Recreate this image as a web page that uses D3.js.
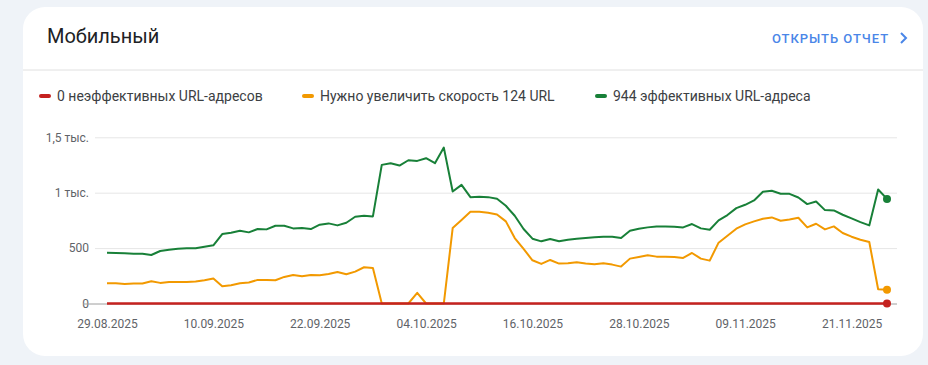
<!DOCTYPE html>
<html><head><meta charset="utf-8">
<script src="https://cdn.jsdelivr.net/npm/d3@7"></script>
<style>
html,body{margin:0;padding:0;background:#eff3f8;}
svg{display:block;font-family:Roboto,"Noto Sans",sans-serif;}
</style></head>
<body><svg id="c" width="928" height="365"></svg>
<script>
const startDate = "2025-08-29";
const poorValues = new Array(89).fill(0);
const needsWork = [183,183,177,180,180,201,186,195,195,195,198,210,225,156,165,183,189,213,213,210,
 240,258,246,258,255,267,285,264,288,327,321,0,0,0,0,96,0,0,0,681,
 753,828,828,819,804,741,591,492,390,357,393,360,363,372,360,354,363,351,333,405,
 420,435,423,423,420,411,456,405,387,549,612,675,714,741,765,777,747,759,774,687,
 720,669,696,636,603,576,555,129,124];
const goodValues = [459,456,453,450,450,438,474,486,495,498,498,513,525,627,639,657,642,672,669,702,
 702,678,681,672,711,723,705,729,783,792,786,1251,1266,1245,1293,1287,1311,1266,1407,1011,
 1071,960,963,960,945,882,792,672,585,561,582,561,576,585,591,597,603,603,591,657,
 675,687,696,696,693,687,717,678,666,750,798,861,891,930,1008,1017,990,990,957,897,
 921,843,840,801,768,735,705,1029,944];
const seriesNames = ["0 неэффективных URL-адресов","Нужно увеличить скорость 124 URL","944 эффективных URL-адреса"];
const seriesColors = ["#c5221f","#f29900","#188038"];
const yTicks = [0,500,1000,1500];
const yTickLabels = ["0","500","1 тыс.","1,5 тыс."];
const xTickLabels = ["29.08.2025","10.09.2025","22.09.2025","04.10.2025","16.10.2025","28.10.2025","09.11.2025","21.11.2025"];

const parse = d3.timeParse("%Y-%m-%d");
const parseTick = d3.timeParse("%d.%m.%Y");
const fmtTick = d3.timeFormat("%d.%m.%Y");
const d0 = parse(startDate);
const dates = d3.timeDay.range(d0, d3.timeDay.offset(d0, goodValues.length));

const svg = d3.select("#c");
// card
svg.append("rect").attr("x",23).attr("y",7).attr("width",900).attr("height",349)
  .attr("rx",22).attr("fill","#fff");
svg.append("text").attr("x",47).attr("y",43).attr("font-size",20).attr("fill","#202124")
  .text("Мобильный");
svg.append("text").attr("x",772).attr("y",43).attr("font-size",13).attr("font-weight",500)
  .attr("letter-spacing",0.95).attr("fill","#4a86e8").text("ОТКРЫТЬ ОТЧЕТ");
svg.append("path").attr("d","M901,33 L906,38 L901,43").attr("fill","none")
  .attr("stroke","#4a86e8").attr("stroke-width",2);
svg.append("line").attr("x1",23).attr("x2",923).attr("y1",70).attr("y2",70)
  .attr("stroke","#e0e0e0").attr("stroke-width",1);

// legend
const legendX = [39,302,595];
seriesNames.forEach((n,i)=>{
  svg.append("rect").attr("x",legendX[i]).attr("y",94).attr("width",12).attr("height",4)
    .attr("rx",2).attr("fill",seriesColors[i]);
  svg.append("text").attr("x",legendX[i]+18).attr("y",100.5).attr("font-size",14)
    .attr("fill","#3c4043").text(n);
});

const x = d3.scaleTime().domain([dates[0], dates[dates.length-1]]).range([107,887]);
const y = d3.scaleLinear().domain([0,1500]).range([303.5,137.3]);

// grid
const gY = svg.append("g").attr("transform","translate(95,0)")
  .call(d3.axisLeft(y).tickValues(yTicks).tickSize(-802).tickFormat((d,i)=>yTickLabels[i]).tickPadding(6));
gY.select(".domain").remove();
gY.selectAll(".tick line").attr("stroke",(d)=>d===0?"#9e9e9e":"#e6e6e6");
gY.selectAll(".tick text").attr("font-size",12).attr("fill","#5f6368").attr("font-family","Roboto");
gY.selectAll(".tick").filter(d=>d===0).append("line").attr("x1",-12).attr("x2",0).attr("stroke","#9e9e9e");

const gX = svg.append("g").attr("transform","translate(0,303.5)")
  .call(d3.axisBottom(x).tickValues(xTickLabels.map(parseTick)).tickSize(0).tickPadding(16).tickFormat(fmtTick));
gX.select(".domain").remove();
gX.selectAll(".tick text").attr("font-size",12).attr("fill","#5f6368").attr("font-family","Roboto");

const line = d3.line().x((d,i)=>x(dates[i])).y(d=>y(d));
const allSeries = [poorValues, needsWork, goodValues];
[2,1,0].forEach(k=>{
  svg.append("path").datum(allSeries[k]).attr("d",line).attr("fill","none")
    .attr("stroke",seriesColors[k]).attr("stroke-width",k===0?2.6:2).attr("stroke-linejoin","round");
});
[2,1,0].forEach(k=>{
  const v = allSeries[k];
  svg.append("circle").attr("cx",x(dates[v.length-1])).attr("cy",y(v[v.length-1])).attr("r",4)
    .attr("fill",seriesColors[k]);
});
</script></body></html>
